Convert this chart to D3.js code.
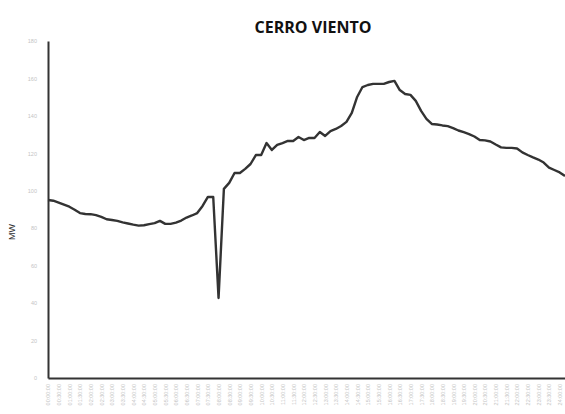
<!DOCTYPE html>
<html>
<head>
<meta charset="utf-8">
<script src="https://cdn.jsdelivr.net/npm/d3@7/dist/d3.min.js"></script>
<style>
html,body{margin:0;padding:0;background:#fff;}
svg{display:block;}
</style>
</head>
<body>
<svg id="chart" width="565" height="414"></svg>
<script>
const title = "CERRO VIENTO";
const yLabel = "MW";
const yTicks = [0, 20, 40, 60, 80, 100, 120, 140, 160, 180];
const values = [
  95.1, 94.7, 93.7, 92.6, 91.5, 89.9, 88.1, 87.6, 87.5, 87.0,
  86.1, 84.8, 84.4, 83.9, 83.1, 82.5, 81.9, 81.4, 81.6, 82.2,
  82.7, 83.9, 82.3, 82.3, 83.0, 84.1, 85.7, 86.8, 88.1, 91.9,
  96.7, 96.7, 42.7, 101.0, 104.2, 109.5, 109.5, 111.7, 114.3, 119.1,
  119.1, 125.5, 121.8, 124.5, 125.5, 126.6, 126.6, 128.7, 127.1, 128.2,
  128.2, 131.4, 129.3, 131.9, 133.0, 134.6, 136.8, 141.6, 150.1, 155.4,
  156.5, 157.1, 157.1, 157.1, 158.1, 158.7, 153.8, 151.7, 151.2, 148.0,
  142.7, 138.4, 135.7, 135.4, 134.9, 134.5, 133.5, 132.2, 131.3, 130.3,
  129.0, 127.1, 126.9, 126.3, 124.7, 123.2, 122.9, 122.9, 122.6, 120.5,
  119.1, 117.8, 116.7, 115.1, 112.4, 111.1, 109.8, 107.9
];
const categories = values.map((d, i) => {
  const m = i * 15;
  return String(Math.floor(m / 60)).padStart(2, "0") + ":" + String(m % 60).padStart(2, "0") + ":00";
});

const svg = d3.select("#chart");
const x = d3.scalePoint().domain(categories).range([48, 565]);
const y = d3.scaleLinear().domain([0, 180]).range([378, 41]);

// title
svg.append("text")
  .attr("x", 313).attr("y", 33)
  .attr("text-anchor", "middle")
  .attr("font-family", "Open Sans, Liberation Sans, sans-serif")
  .attr("font-weight", "bold")
  .attr("font-size", 16)
  .attr("fill", "#111")
  .text(title);

// y label
svg.append("text")
  .attr("transform", "translate(15,232) rotate(-90)")
  .attr("text-anchor", "middle")
  .attr("font-family", "Liberation Sans, sans-serif")
  .attr("font-size", 9)
  .attr("fill", "#333")
  .text(yLabel);

// y axis
const yAxis = d3.axisLeft(y).tickValues(yTicks).tickSize(0).tickPadding(11);
const gy = svg.append("g").attr("transform", "translate(48,0)").call(yAxis);
gy.select(".domain").attr("stroke", "#333").attr("stroke-width", 2);
gy.selectAll("text").attr("font-size", 5.5).attr("fill", "#c4c4c4")
  .attr("font-family", "Liberation Sans, sans-serif");

// x axis
const xAxis = d3.axisBottom(x)
  .tickValues(categories.filter((d, i) => i % 2 === 0))
  .tickSize(0).tickPadding(0);
const gx = svg.append("g").attr("transform", "translate(0,378)").call(xAxis);
gx.select(".domain").attr("stroke", "#333").attr("stroke-width", 2);
gx.selectAll("text")
  .attr("font-size", 5.5).attr("fill", "#c4c4c4")
  .attr("font-family", "Liberation Sans, sans-serif")
  .attr("dy", "0.35em")
  .attr("transform", "translate(0,6) rotate(-90)")
  .attr("x", 0).attr("y", 0)
  .attr("text-anchor", "end");

// line
const line = d3.line()
  .x((d, i) => x(categories[i]))
  .y(d => y(d));
svg.append("path")
  .datum(values)
  .attr("d", line)
  .attr("fill", "none")
  .attr("stroke", "#333")
  .attr("stroke-width", 2.4)
  .attr("stroke-linejoin", "round");
</script>
</body>
</html>
